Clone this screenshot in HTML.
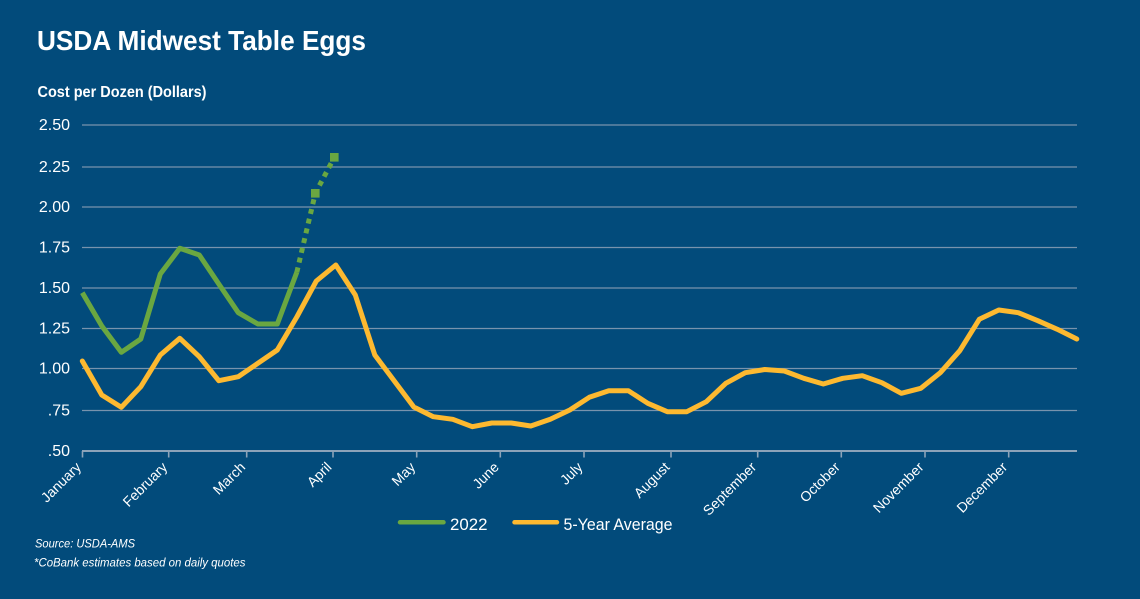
<!DOCTYPE html>
<html>
<head>
<meta charset="utf-8">
<style>
  html, body { margin: 0; padding: 0; background: #024b7b; }
  svg { display: block; }
  text { font-family: "Liberation Sans", "DejaVu Sans", sans-serif; fill: #ffffff; }
</style>
</head>
<body>
<svg width="1140" height="599" viewBox="0 0 1140 599" xmlns="http://www.w3.org/2000/svg">
  <rect x="0" y="0" width="1140" height="599" fill="#024b7b"/>

  <!-- Title -->
  <text x="37" y="50" font-size="28" font-weight="bold" textLength="329" lengthAdjust="spacingAndGlyphs">USDA Midwest Table Eggs</text>
  <text x="37.5" y="97" font-size="16" font-weight="bold" textLength="169" lengthAdjust="spacingAndGlyphs">Cost per Dozen (Dollars)</text>

  <!-- Gridlines -->
  <g stroke="#7893ad" stroke-width="1.2">
    <line x1="82" y1="125" x2="1077" y2="125"/>
    <line x1="82" y1="167" x2="1077" y2="167"/>
    <line x1="82" y1="207" x2="1077" y2="207"/>
    <line x1="82" y1="247.5" x2="1077" y2="247.5"/>
    <line x1="82" y1="288" x2="1077" y2="288"/>
    <line x1="82" y1="328.5" x2="1077" y2="328.5"/>
    <line x1="82" y1="368.5" x2="1077" y2="368.5"/>
    <line x1="82" y1="410.5" x2="1077" y2="410.5"/>
  </g>
  <!-- X axis -->
  <line x1="82" y1="451" x2="1077" y2="451" stroke="#8ca3b9" stroke-width="2"/>
  <g stroke="#8ca3b9" stroke-width="1.6">
    <line x1="82.5" y1="451" x2="82.5" y2="457.5"/>
    <line x1="168.7" y1="451" x2="168.7" y2="457.5"/>
    <line x1="246.7" y1="451" x2="246.7" y2="457.5"/>
    <line x1="333" y1="451" x2="333" y2="457.5"/>
    <line x1="416.7" y1="451" x2="416.7" y2="457.5"/>
    <line x1="500.3" y1="451" x2="500.3" y2="457.5"/>
    <line x1="584" y1="451" x2="584" y2="457.5"/>
    <line x1="671" y1="451" x2="671" y2="457.5"/>
    <line x1="757.7" y1="451" x2="757.7" y2="457.5"/>
    <line x1="841.3" y1="451" x2="841.3" y2="457.5"/>
    <line x1="925" y1="451" x2="925" y2="457.5"/>
    <line x1="1008.7" y1="451" x2="1008.7" y2="457.5"/>
  </g>

  <!-- Y labels -->
  <g font-size="16" text-anchor="end">
    <text x="70" y="130">2.50</text>
    <text x="70" y="172">2.25</text>
    <text x="70" y="212">2.00</text>
    <text x="70" y="252.5">1.75</text>
    <text x="70" y="293">1.50</text>
    <text x="70" y="333.5">1.25</text>
    <text x="70" y="373.5">1.00</text>
    <text x="70" y="415.5">.75</text>
    <text x="70" y="456">.50</text>
  </g>

  <!-- X labels -->
  <g font-size="14" text-anchor="end">
    <text transform="translate(82,468) rotate(-45)">January</text>
    <text transform="translate(168.2,468) rotate(-45)">February</text>
    <text transform="translate(246.2,468) rotate(-45)">March</text>
    <text transform="translate(332.5,468) rotate(-45)">April</text>
    <text transform="translate(416.2,468) rotate(-45)">May</text>
    <text transform="translate(499.8,468) rotate(-45)">June</text>
    <text transform="translate(583.5,468) rotate(-45)">July</text>
    <text transform="translate(670.5,468) rotate(-45)">August</text>
    <text transform="translate(757.2,468) rotate(-45)">September</text>
    <text transform="translate(840.8,468) rotate(-45)">October</text>
    <text transform="translate(924.5,468) rotate(-45)">November</text>
    <text transform="translate(1008.2,468) rotate(-45)">December</text>
  </g>

  <!-- 5-Year Average -->
  <polyline fill="none" stroke="#fdb930" stroke-width="5" stroke-linejoin="round" stroke-linecap="round"
    points="82.3,361 101.8,395 121.3,407.3 140.8,386.7 160.3,355 179.8,338.3 199.3,356.7 218.8,380.7 238.3,376.7 257.8,363.3 277.3,350 296.8,317 316.3,281 335.8,265 355.3,295 374.8,355 394.3,381 413.8,407 433.3,416.7 452.8,419.3 472.3,426.7 491.8,423 511.3,423 530.8,426 550.3,419.3 569.8,410 589.3,397.3 608.8,390.7 628.3,390.7 647.8,403.3 667.3,411.7 686.8,411.7 706.3,401.7 725.8,383.3 745.3,372.7 764.8,369.5 784.3,371 803.8,378.3 823.3,384 842.8,378.3 862.3,375.7 881.8,382.7 901.3,393.3 920.8,388.3 940.3,372.7 959.8,350.7 979.3,319.3 998.8,310 1018.3,312.7 1037.8,320.7 1057.3,329.3 1076.8,339"/>

  <!-- 2022 -->
  <polyline fill="none" stroke="#6aa741" stroke-width="5" stroke-linejoin="round" stroke-linecap="butt"
    points="82.3,292.7 101.8,326 121.3,352.3 140.8,339 160.3,274 179.8,248.3 199.3,255 218.8,284 238.3,312.7 257.8,324 277.3,324 296.8,272.3"/>
  <polyline fill="none" stroke="#6aa741" stroke-width="5" stroke-dasharray="5 5" stroke-linejoin="round"
    points="296.8,272.3 315.3,193.3 334.3,157.3"/>
  <rect x="311" y="189" width="8.6" height="8.6" fill="#6aa741"/>
  <rect x="330" y="153" width="8.6" height="8.6" fill="#6aa741"/>

  <!-- Legend -->
  <line x1="400" y1="522.3" x2="443.5" y2="522.3" stroke="#6aa741" stroke-width="4.5" stroke-linecap="round"/>
  <text x="450" y="530" font-size="17" textLength="37.5" lengthAdjust="spacingAndGlyphs">2022</text>
  <line x1="514.5" y1="522.3" x2="557" y2="522.3" stroke="#fdb930" stroke-width="4.5" stroke-linecap="round"/>
  <text x="563.5" y="530" font-size="17" textLength="109" lengthAdjust="spacingAndGlyphs">5-Year Average</text>

  <!-- Footnotes -->
  <text x="35" y="547.3" font-size="11.5" font-style="italic" textLength="100" lengthAdjust="spacingAndGlyphs">Source: USDA-AMS</text>
  <text x="34" y="566.7" font-size="11.5" font-style="italic" textLength="211.5" lengthAdjust="spacingAndGlyphs">*CoBank estimates based on daily quotes</text>
</svg>
</body>
</html>
